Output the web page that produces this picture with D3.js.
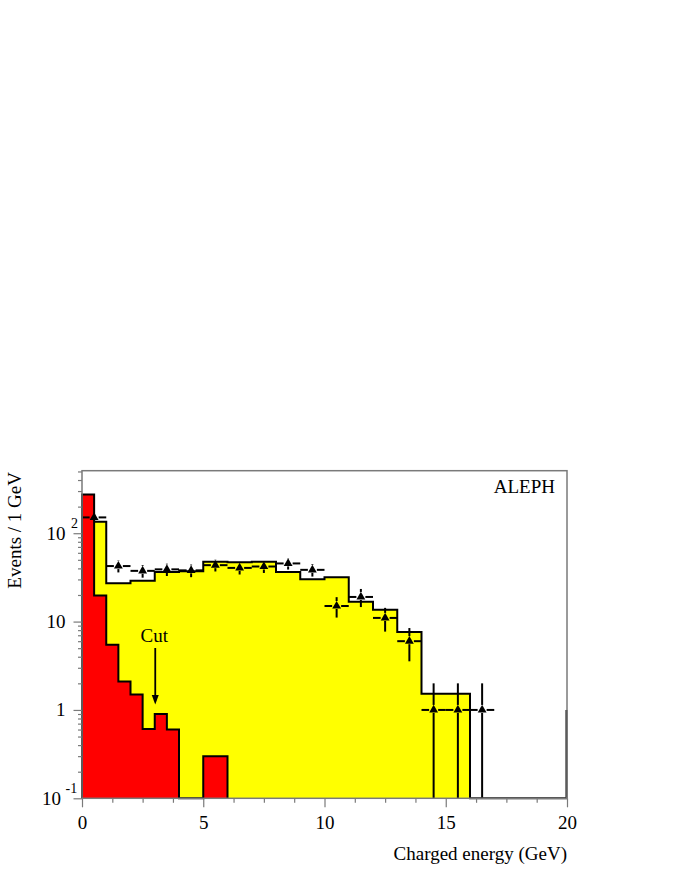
<!DOCTYPE html>
<html>
<head>
<meta charset="utf-8">
<script src="https://cdn.jsdelivr.net/npm/d3@7"></script>
<style>
  html, body { margin: 0; padding: 0; background: #fff; }
  svg { display: block; }
  text { font-family: "Liberation Serif", "DejaVu Serif", serif; fill: #000; }
</style>
</head>
<body>
<svg id="chart" width="681" height="881"></svg>
<script>
// ---------------- data ----------------
// Red histogram (0.5 GeV bins, lower edges)
const redBinWidth = 0.5;
const redEdges = [0, 0.5, 1, 1.5, 2, 2.5, 3, 3.5, 4, 4.5, 5, 5.5];
const redValues = [275, 19.7, 5.45, 2.1, 1.5, 0.61, 0.9, 0.6, 0, 0, 0.3, 0.3];

// Yellow histogram (1 GeV bins, lower edges)
const mcBinWidth = 1;
const mcEdges = [0, 1, 2, 3, 4, 5, 6, 7, 8, 9, 10, 11, 12, 13, 14, 15, 16, 17, 18, 19];
const mcValues = [135, 27.2, 28.9, 36.5, 37, 47.5, 47, 47.5, 36.3, 30.2, 31.8, 16.8, 13.6, 7.6, 1.52, 1.52, 0, 0, 0, 0];
const mcEndLevel = 1; // line drawn at the right edge (x = 20) up to this level

// Data points (bin centres), values and errors
const dataCenters = [0.5, 1.5, 2.5, 3.5, 4.5, 5.5, 6.5, 7.5, 8.5, 9.5, 10.5, 11.5, 12.5, 13.5, 14.5, 15.5, 16.5];
const dataValues  = [151, 42.5, 37.5, 39, 38, 43.5, 40.5, 42, 45.5, 38.5, 15, 19, 11, 6, 1, 1, 1];
const dataErrors  = [12.3, 6.5, 6.1, 6.2, 6.2, 6.6, 6.4, 6.5, 6.7, 6.2, 3.9, 4.4, 3.3, 2.45, 1, 1, 1];
const dataHalfWidth = 0.5;

// Axes
const xDomain = [0, 20];
const yDomain = [0.1, 510];
const xMajorTicks = [0, 5, 10, 15, 20];
const xMinorTicks = [1.25, 2.5, 3.75, 6.25, 7.5, 8.75, 11.25, 12.5, 13.75, 16.25, 17.5, 18.75];
const yMajorTicks = [0.1, 1, 10, 100];
const yMinorTicks = [0.2, 0.3, 0.4, 0.5, 0.6, 0.7, 0.8, 0.9, 2, 3, 4, 5, 6, 7, 8, 9,
                     20, 30, 40, 50, 60, 70, 80, 90, 200, 300, 400, 500];
const yTickLabels = [
  { v: 0.1, base: "10", exp: "-1" },
  { v: 1, base: "1", exp: "" },
  { v: 10, base: "10", exp: "" },
  { v: 100, base: "10", exp: "2" }
];
const cutValue = 3;
const cutLabel = "Cut";
const xTitle = "Charged energy (GeV)";
const yTitle = "Events / 1 GeV";
const experimentLabel = "ALEPH";

// ---------------- layout ----------------
const L = 82, R = 567, T = 470.7, B = 798.3;
const svg = d3.select("#chart");
const x = d3.scaleLinear().domain(xDomain).range([L, R]);
const y = d3.scaleLog().domain(yDomain).range([B, T]);
const yc = v => y(Math.max(v, yDomain[0]));
const frameColor = "#7a7a7a";
const fs = "19px";

function histPath(edges, values, width) {
  const p = d3.path();
  p.moveTo(x(edges[0]), y(yDomain[0]));
  edges.forEach((e, i) => {
    p.lineTo(x(e), yc(values[i]));
    p.lineTo(x(e + width), yc(values[i]));
  });
  p.lineTo(x(edges[edges.length - 1] + width), y(yDomain[0]));
  return p.toString();
}

// yellow histogram
svg.append("path")
  .attr("d", histPath(mcEdges, mcValues, mcBinWidth))
  .attr("fill", "#ffff00")
  .attr("stroke", "#000")
  .attr("stroke-width", 2)
  .attr("stroke-linejoin", "miter");

svg.append("line")
  .attr("x1", x(xDomain[1]) - 0.5).attr("x2", x(xDomain[1]) - 0.5)
  .attr("y1", y(yDomain[0])).attr("y2", y(mcEndLevel))
  .attr("stroke", "#000").attr("stroke-width", 2);

// red histogram
svg.append("path")
  .attr("d", histPath(redEdges, redValues, redBinWidth))
  .attr("fill", "#ff0000")
  .attr("stroke", "#000")
  .attr("stroke-width", 2)
  .attr("stroke-linejoin", "miter");

// data points with error bars
const gData = svg.append("g");
const gap = 4.5;
dataCenters.forEach((c, i) => {
  const cx = x(c), cy = y(dataValues[i]);
  const xl = x(c - dataHalfWidth), xr = x(c + dataHalfWidth);
  const yt = yc(dataValues[i] + dataErrors[i]);
  const yb = yc(dataValues[i] - dataErrors[i]);
  const segs = [];
  if (cx - gap > xl) segs.push([xl, cy, cx - gap, cy]);
  if (xr > cx + gap) segs.push([cx + gap, cy, xr, cy]);
  if (cy - 5 > yt) segs.push([cx, yt, cx, cy - 5]);
  if (yb > cy + 3) segs.push([cx, cy + 3, cx, yb]);
  segs.forEach(s => gData.append("line")
    .attr("x1", s[0]).attr("y1", s[1]).attr("x2", s[2]).attr("y2", s[3])
    .attr("stroke", "#000").attr("stroke-width", 2));
  gData.append("path")
    .attr("d", d3.symbol(d3.symbolTriangle, 34)())
    .attr("transform", `translate(${cx},${cy})`)
    .attr("fill", "#000");
});

// frame
svg.append("rect")
  .attr("x", L).attr("y", T).attr("width", R - L).attr("height", B - T)
  .attr("fill", "none").attr("stroke", frameColor).attr("stroke-width", 1.5);

// axes
function styleAxis(g) {
  g.select(".domain").remove();
  g.selectAll(".tick line").attr("stroke", frameColor).attr("stroke-width", 1.2);
}
svg.append("g").attr("transform", `translate(0,${B})`)
  .call(d3.axisBottom(x).tickValues(xMinorTicks).tickSize(4.5).tickFormat(""))
  .call(styleAxis).selectAll("text").remove();
const xMaj = svg.append("g").attr("transform", `translate(0,${B})`)
  .call(d3.axisBottom(x).tickValues(xMajorTicks).tickSize(9).tickFormat(d3.format("d")))
  .call(styleAxis);
xMaj.selectAll(".tick text")
  .attr("y", 31).attr("dy", 0)
  .style("font-family", "Liberation Serif").style("font-size", fs).attr("fill", "#000");

svg.append("g").attr("transform", `translate(${L},0)`)
  .call(d3.axisLeft(y).tickValues(yMinorTicks).tickSize(4).tickFormat(""))
  .call(styleAxis).selectAll("text").remove();
svg.append("g").attr("transform", `translate(${L},0)`)
  .call(d3.axisLeft(y).tickValues(yMajorTicks).tickSize(8.5).tickFormat(""))
  .call(styleAxis).selectAll("text").remove();

// y tick labels (with superscript exponents)
const gYL = svg.append("g");
yTickLabels.forEach(t => {
  const yy = y(t.v);
  const baseEnd = t.exp === "-1" ? 61 : 65.5;
  gYL.append("text")
    .attr("x", baseEnd).attr("y", yy + 6.5)
    .attr("text-anchor", "end")
    .style("font-size", fs)
    .text(t.base);
  if (t.exp) {
    gYL.append("text")
      .attr("x", t.exp === "-1" ? 65.5 : 71)
      .attr("y", yy - 5)
      .style("font-size", "14px")
      .text(t.exp);
  }
});

// axis titles
svg.append("text")
  .attr("x", R).attr("y", 860)
  .attr("text-anchor", "end")
  .style("font-size", fs)
  .text(xTitle);

svg.append("text")
  .attr("transform", `translate(21,472) rotate(-90)`)
  .attr("text-anchor", "end")
  .style("font-size", fs)
  .text(yTitle);

// experiment label
svg.append("text")
  .attr("x", 555).attr("y", 492.5)
  .attr("text-anchor", "end")
  .style("font-size", fs)
  .text(experimentLabel);

// cut marker
const cutX = x(cutValue) + 0.5;
svg.append("text")
  .attr("x", cutX - 1).attr("y", 641.5)
  .attr("text-anchor", "middle")
  .style("font-size", fs)
  .text(cutLabel);
svg.append("line")
  .attr("x1", cutX).attr("x2", cutX)
  .attr("y1", 648).attr("y2", 698)
  .attr("stroke", "#000").attr("stroke-width", 1.8);
svg.append("path")
  .attr("d", d3.line()([[cutX - 3.5, 695], [cutX + 3.5, 695], [cutX, 704.5]]) + "Z")
  .attr("fill", "#000");
</script>
</body>
</html>
